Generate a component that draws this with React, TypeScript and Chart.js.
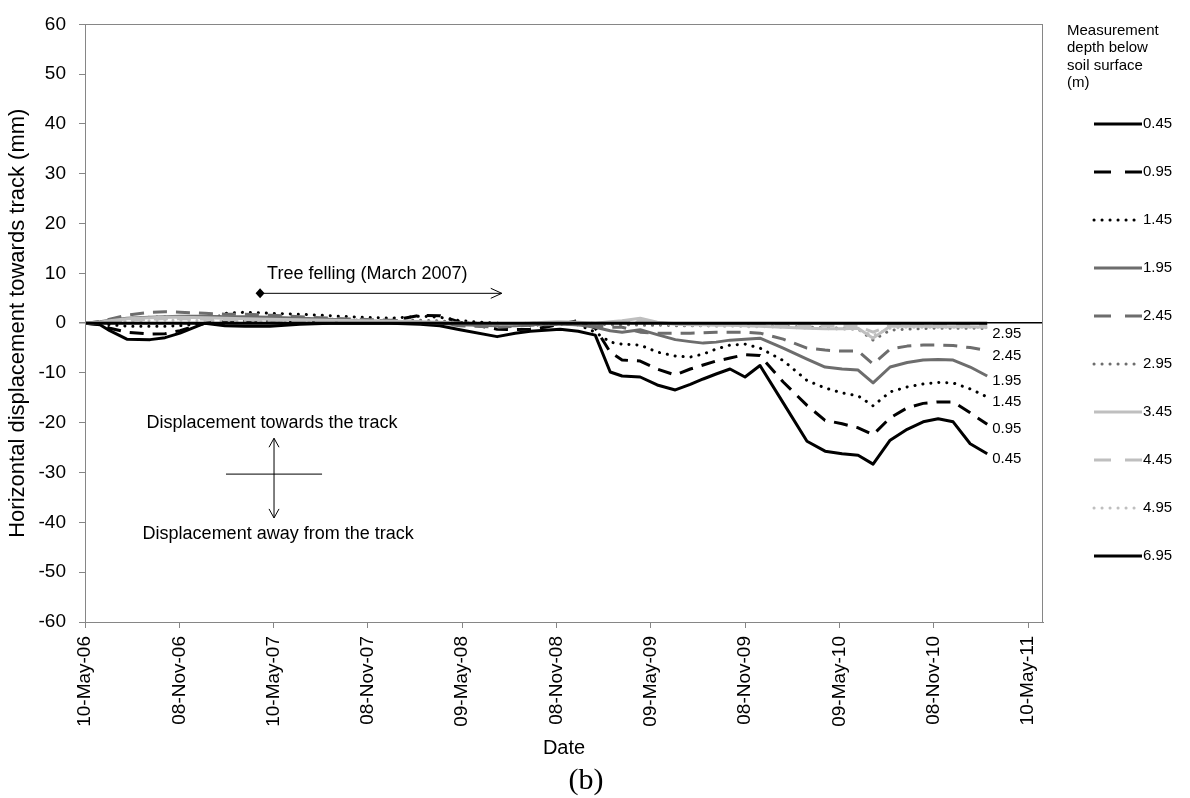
import React, { useEffect, useRef } from 'react';
import { Chart, registerables } from 'chart.js';

Chart.register(...registerables);

const SANS = '"Liberation Sans", Arial, sans-serif';
const SERIF = '"Liberation Serif", "Times New Roman", serif';

// days since 10-May-2006
const dayOffsets = [0, 29, 48, 81, 126, 155, 184, 232, 271, 310, 358, 416, 474, 533, 591, 649, 687, 726, 798, 833, 862, 891, 920, 955, 988, 1017, 1040, 1075, 1108, 1143, 1172, 1197, 1222, 1249, 1278, 1307, 1352, 1398, 1433, 1466, 1497, 1526, 1559, 1592, 1623, 1652, 1681, 1714, 1747];

const depth045 = [0, -0.3, -1.5, -3.2, -3.3, -2.9, -2.0, 0, -0.5, -0.6, -0.6, -0.2, 0, 0, 0, -0.2, -0.5, -1.3, -2.7, -2.0, -1.6, -1.4, -1.2, -1.6, -2.4, -9.8, -10.6, -10.8, -12.4, -13.4, -12.3, -11.2, -10.2, -9.2, -10.8, -8.5, -16.0, -23.7, -25.7, -26.2, -26.5, -28.3, -23.5, -21.3, -19.8, -19.2, -19.8, -24.2, -26.2];
const depth095 = [0, -0.2, -1.0, -1.8, -2.2, -2.1, -1.5, 0, 0.3, 0.5, 0.6, 0.5, 0.4, 0.3, 0.5, 1.6, 1.5, 0.2, -1.2, -1.3, -1.2, -0.8, -0.2, 0.5, -1.0, -5.8, -7.4, -7.6, -9.2, -10.4, -9.2, -8.4, -7.6, -7.0, -6.3, -6.5, -11.8, -16.5, -19.5, -20.2, -21.0, -22.4, -19.0, -17.0, -16.1, -15.8, -15.8, -18.0, -20.3];
const depth145 = [0, 0, -0.3, -0.6, -0.6, -0.6, -0.5, 0, 2.0, 2.2, 2.0, 1.8, 1.5, 1.2, 1.0, 1.4, 1.2, 0.5, 0, -0.3, -0.4, -0.3, -0.2, -0.3, -1.8, -3.8, -4.2, -4.4, -5.8, -6.6, -6.8, -6.2, -5.2, -4.4, -4.2, -5.0, -7.5, -11.5, -13.0, -14.0, -14.6, -16.6, -13.8, -12.8, -12.2, -11.9, -12.0, -13.2, -14.8];
const depth195 = [0, 0.3, 0.6, 1.0, 1.2, 1.3, 1.4, 1.4, 1.3, 1.3, 1.2, 1.0, 0.8, 0.5, 0.3, 0.1, 0, -0.3, -0.5, -0.5, -0.3, -0.2, -0.2, -0.3, -0.8, -1.5, -1.8, -1.3, -2.3, -3.3, -3.7, -4.0, -3.8, -3.4, -3.2, -3.0, -5.0, -7.2, -8.8, -9.2, -9.4, -12.0, -8.8, -7.9, -7.4, -7.3, -7.4, -8.8, -10.6];
const depth245 = [0, 0.3, 0.8, 1.6, 2.2, 2.3, 2.2, 2.0, 1.8, 1.8, 1.6, 1.3, 1.0, 0.8, 0.6, 0.3, 0, -0.5, -0.8, -0.6, -0.4, -0.3, -0.2, -0.3, -0.5, -0.8, -0.8, -1.8, -2.0, -2.0, -2.0, -1.9, -1.8, -1.8, -1.8, -2.0, -3.2, -5.0, -5.4, -5.6, -5.6, -8.2, -5.2, -4.6, -4.4, -4.4, -4.5, -4.9, -5.5];
const depth295 = [0, 0.2, 0.5, 0.9, 1.2, 1.3, 1.3, 1.2, 1.1, 1.0, 1.0, 0.9, 0.8, 0.6, 0.5, 0.6, 0.5, 0.1, -0.2, -0.2, -0.1, -0.1, 0, -0.1, -0.2, -0.3, -0.3, -0.4, -0.4, -0.5, -0.5, -0.5, -0.5, -0.5, -0.4, -0.5, -0.6, -0.8, -0.9, -1.0, -1.2, -3.4, -1.4, -1.2, -1.1, -1.0, -1.0, -1.0, -1.1];
const depth345 = [0, 0.2, 0.5, 0.9, 1.1, 1.2, 1.2, 1.1, 1.0, 0.9, 0.8, 0.7, 0.6, 0.5, 0.4, 0.3, 0.2, 0, -0.1, -0.1, 0, 0.2, 0.3, 0.2, 0, 0.3, 0.5, 1.0, 0.2, -0.2, -0.3, -0.3, -0.4, -0.4, -0.5, -0.6, -0.8, -1.0, -1.1, -1.1, -1.0, -3.0, -0.6, -0.6, -0.6, -0.7, -0.7, -0.7, -0.8];
const depth445 = [0, 0.1, 0.3, 0.6, 0.8, 0.9, 0.9, 0.8, 0.7, 0.7, 0.6, 0.5, 0.4, 0.3, 0.3, 0.2, 0.1, 0, -0.1, -0.1, 0, 0.1, 0.2, 0.1, 0, 0.1, 0.2, 0.5, 0.1, -0.1, -0.2, -0.2, -0.2, -0.3, -0.3, -0.3, -0.4, -0.5, -0.5, -0.5, -0.6, -1.8, -0.4, -0.3, -0.3, -0.3, -0.3, -0.3, -0.4];
const depth495 = [0, 0.1, 0.2, 0.4, 0.5, 0.6, 0.6, 0.5, 0.5, 0.4, 0.4, 0.3, 0.3, 0.2, 0.2, 0.1, 0.1, 0, -0.1, -0.1, 0, 0, 0.1, 0, -0.1, 0, 0.1, 0.3, -0.1, -0.3, -0.4, -0.5, -0.6, -0.6, -0.7, -0.7, -0.8, -1.0, -1.1, -1.2, -1.3, -2.5, -1.0, -0.8, -0.8, -0.8, -0.8, -0.8, -0.9];
const depth695 = [0, 0, 0, 0, 0, 0, 0, 0, 0, 0, 0, 0, 0, 0, 0, 0, 0, 0, 0, 0, 0, 0, 0, 0, 0, 0, 0, 0, 0, 0, 0, 0, 0, 0, 0, 0, 0, 0, 0, 0, 0, 0, 0, 0, 0, 0, 0, 0, 0];

const depthLabels = ['0.45', '0.95', '1.45', '1.95', '2.45', '2.95', '3.45', '4.45', '4.95', '6.95'];
const depthSeries = [depth045, depth095, depth145, depth195, depth245, depth295, depth345, depth445, depth495, depth695];
const endLabelled = ['0.45', '0.95', '1.45', '1.95', '2.45', '2.95'];

const tickDays = [0, 182.6, 365.3, 547.9, 730.5, 913.1, 1095.8, 1278.4, 1461, 1643.6, 1826.3];
const tickLabels = ['10-May-06', '08-Nov-06', '10-May-07', '08-Nov-07', '09-May-08', '08-Nov-08', '09-May-09', '08-Nov-09', '09-May-10', '08-Nov-10', '10-May-11'];
const X_MAX = 1855;

const legendTitle = ['Measurement', 'depth below', 'soil surface', '(m)'];

// annotation anchors in data units
const fellingStart = { x: 339, y: 6 };
const fellingEnd = { x: 807, y: 6 };
const fellingText = 'Tree felling (March 2007)';
const crossCentre = { x: 366, y: -30.3 };
const crossHalfWidthDays = 93;
const crossArrowTop = -23.1;
const crossArrowBottom = -39.1;
const towardsText = { x: 362, y: -20.1, text: 'Displacement towards the track' };
const awayText = { x: 374, y: -42.3, text: 'Displacement away from the track' };

const BLACK = '#000000';
const DARK = '#6d6d6d';
const LIGHT = '#bfbfbf';
const DASH = [14, 9];
const DOT = [0.1, 7.9];
const styles = [
  { color: BLACK, dash: [] as number[] },
  { color: BLACK, dash: DASH },
  { color: BLACK, dash: DOT },
  { color: DARK, dash: [] as number[] },
  { color: DARK, dash: DASH },
  { color: DARK, dash: DOT },
  { color: LIGHT, dash: [] as number[] },
  { color: LIGHT, dash: DASH },
  { color: LIGHT, dash: DOT },
  { color: BLACK, dash: [] as number[] },
];

const overlayPlugin = {
  id: 'overlay',
  afterDatasetsDraw(chart: any) {
    const { ctx, chartArea: a, scales } = chart;
    const x = scales.x;
    const y = scales.y;
    ctx.save();

    // plot box
    ctx.strokeStyle = '#868686';
    ctx.lineWidth = 1;
    ctx.setLineDash([]);
    ctx.strokeRect(Math.round(a.left) + 0.5, Math.round(a.top) + 0.5, Math.round(a.right - a.left) - 1, Math.round(a.bottom - a.top));

    // tree felling annotation
    const fx0 = x.getPixelForValue(fellingStart.x);
    const fy = y.getPixelForValue(fellingStart.y);
    const fx1 = x.getPixelForValue(fellingEnd.x);
    ctx.strokeStyle = BLACK;
    ctx.fillStyle = BLACK;
    ctx.lineWidth = 1;
    ctx.beginPath();
    ctx.moveTo(fx0, fy);
    ctx.lineTo(fx1, fy);
    ctx.moveTo(fx1 - 11, fy - 5);
    ctx.lineTo(fx1, fy);
    ctx.lineTo(fx1 - 11, fy + 5);
    ctx.stroke();
    ctx.beginPath();
    ctx.moveTo(fx0, fy - 5);
    ctx.lineTo(fx0 + 4.5, fy);
    ctx.lineTo(fx0, fy + 5);
    ctx.lineTo(fx0 - 4.5, fy);
    ctx.closePath();
    ctx.fill();
    ctx.font = `18px ${SANS}`;
    ctx.textAlign = 'left';
    ctx.textBaseline = 'middle';
    ctx.fillText(fellingText, fx0 + 7, fy - 19);

    // direction cross
    const cx = x.getPixelForValue(crossCentre.x);
    const cy = y.getPixelForValue(crossCentre.y);
    const chw = x.getPixelForValue(crossCentre.x + crossHalfWidthDays) - cx;
    const top = y.getPixelForValue(crossArrowTop);
    const bot = y.getPixelForValue(crossArrowBottom);
    ctx.strokeStyle = '#000';
    ctx.beginPath();
    ctx.moveTo(cx - chw, cy);
    ctx.lineTo(cx + chw, cy);
    ctx.moveTo(cx, top);
    ctx.lineTo(cx, bot);
    ctx.moveTo(cx - 5, top + 9);
    ctx.lineTo(cx, top);
    ctx.lineTo(cx + 5, top + 9);
    ctx.moveTo(cx - 5, bot - 9);
    ctx.lineTo(cx, bot);
    ctx.lineTo(cx + 5, bot - 9);
    ctx.stroke();
    ctx.textAlign = 'center';
    ctx.fillText(towardsText.text, x.getPixelForValue(towardsText.x), y.getPixelForValue(towardsText.y));
    ctx.fillText(awayText.text, x.getPixelForValue(awayText.x), y.getPixelForValue(awayText.y));

    // end-of-line labels
    ctx.font = `15px ${SANS}`;
    ctx.textAlign = 'left';
    endLabelled.forEach((lab) => {
      const idx = depthLabels.indexOf(lab);
      const series = depthSeries[idx];
      const n = series.length - 1;
      const px = x.getPixelForValue(dayOffsets[n]);
      const py = y.getPixelForValue(series[n]);
      ctx.fillText(lab, px + 5, py + 5);
    });

    // legend
    ctx.font = `15px ${SANS}`;
    ctx.textBaseline = 'middle';
    ctx.textAlign = 'left';
    legendTitle.forEach((t, i) => ctx.fillText(t, 1067, 31 + i * 17.3));
    depthLabels.forEach((lab, i) => {
      const ly = 124 + i * 48;
      const st = styles[i];
      ctx.strokeStyle = st.color;
      ctx.lineWidth = 3;
      ctx.lineCap = st.dash === DOT ? 'round' : 'butt';
      ctx.setLineDash(st.dash === DASH ? [17, 14] : st.dash);
      ctx.beginPath();
      ctx.moveTo(1094, ly);
      ctx.lineTo(1142, ly);
      ctx.stroke();
      ctx.setLineDash([]);
      ctx.fillStyle = '#000';
      ctx.fillText(lab, 1143, ly);
    });

    // panel letter
    ctx.font = `30px ${SERIF}`;
    ctx.textAlign = 'center';
    ctx.fillText('(b)', 586, 781);
    ctx.restore();
  },
};

export default function App() {
  const ref = useRef<HTMLCanvasElement | null>(null);
  useEffect(() => {
    const canvas = ref.current;
    if (!canvas) return;
    const datasets = depthSeries.map((series, i) => ({
      label: depthLabels[i],
      data: series.map((v, j) => ({ x: dayOffsets[j], y: v })),
      borderColor: styles[i].color,
      backgroundColor: styles[i].color,
      borderWidth: 3,
      borderDash: styles[i].dash,
      borderCapStyle: styles[i].dash === DOT ? 'round' : 'butt',
      borderJoinStyle: 'round',
      pointRadius: 0,
      tension: 0,
      fill: false,
      order: i === 9 ? -1 : 10 - i,
    }));
    const chart = new Chart(canvas, {
      type: 'line',
      data: { datasets: datasets as any },
      plugins: [overlayPlugin],
      options: {
        animation: false,
        responsive: false,
        devicePixelRatio: 1,
        layout: { padding: { left: 0, right: 147, top: 20, bottom: 0 } },
        plugins: { legend: { display: false }, tooltip: { enabled: false } },
        scales: {
          x: {
            type: 'linear',
            min: 0,
            max: X_MAX,
            afterBuildTicks: (s: any) => {
              s.ticks = tickDays.map((v) => ({ value: v }));
            },
            afterFit: (s: any) => {
              s.height = 176;
            },
            ticks: {
              autoSkip: false,
              maxRotation: 90,
              minRotation: 90,
              padding: 8,
              color: '#000',
              font: { family: SANS, size: 19 },
              callback: (_v: any, i: number) => tickLabels[i],
            },
            grid: { drawOnChartArea: false, drawTicks: true, tickLength: 6, tickColor: '#868686' },
            border: { color: '#868686', width: 1 },
            title: {
              display: true,
              text: 'Date',
              color: '#000',
              font: { family: SANS, size: 20 },
              padding: { top: 0, bottom: 38 },
            },
          },
          y: {
            min: -60,
            max: 60,
            afterFit: (s: any) => {
              s.width = 85;
            },
            ticks: {
              stepSize: 10,
              padding: 13,
              color: '#000',
              font: { family: SANS, size: 19 },
            },
            grid: {
              drawOnChartArea: true,
              drawTicks: true,
              tickLength: 6,
              tickColor: '#868686',
              color: (c: any) => (c.tick && c.tick.value === 0 ? '#000' : 'rgba(0,0,0,0)'),
              lineWidth: (c: any) => (c.tick && c.tick.value === 0 ? 1.5 : 1),
            },
            border: { color: '#868686', width: 1 },
            title: {
              display: true,
              text: 'Horizontal displacement towards track (mm)',
              color: '#000',
              font: { family: SANS, size: 22 },
              padding: { top: 5, bottom: 0 },
            },
          },
        },
      } as any,
    });
    return () => chart.destroy();
  }, []);
  return (
    <div style={{ position: 'fixed', left: 0, top: 0, width: 1190, height: 798, background: '#fff' }}>
      <canvas ref={ref} width={1190} height={798} style={{ width: 1190, height: 798, display: 'block' }} />
    </div>
  );
}
